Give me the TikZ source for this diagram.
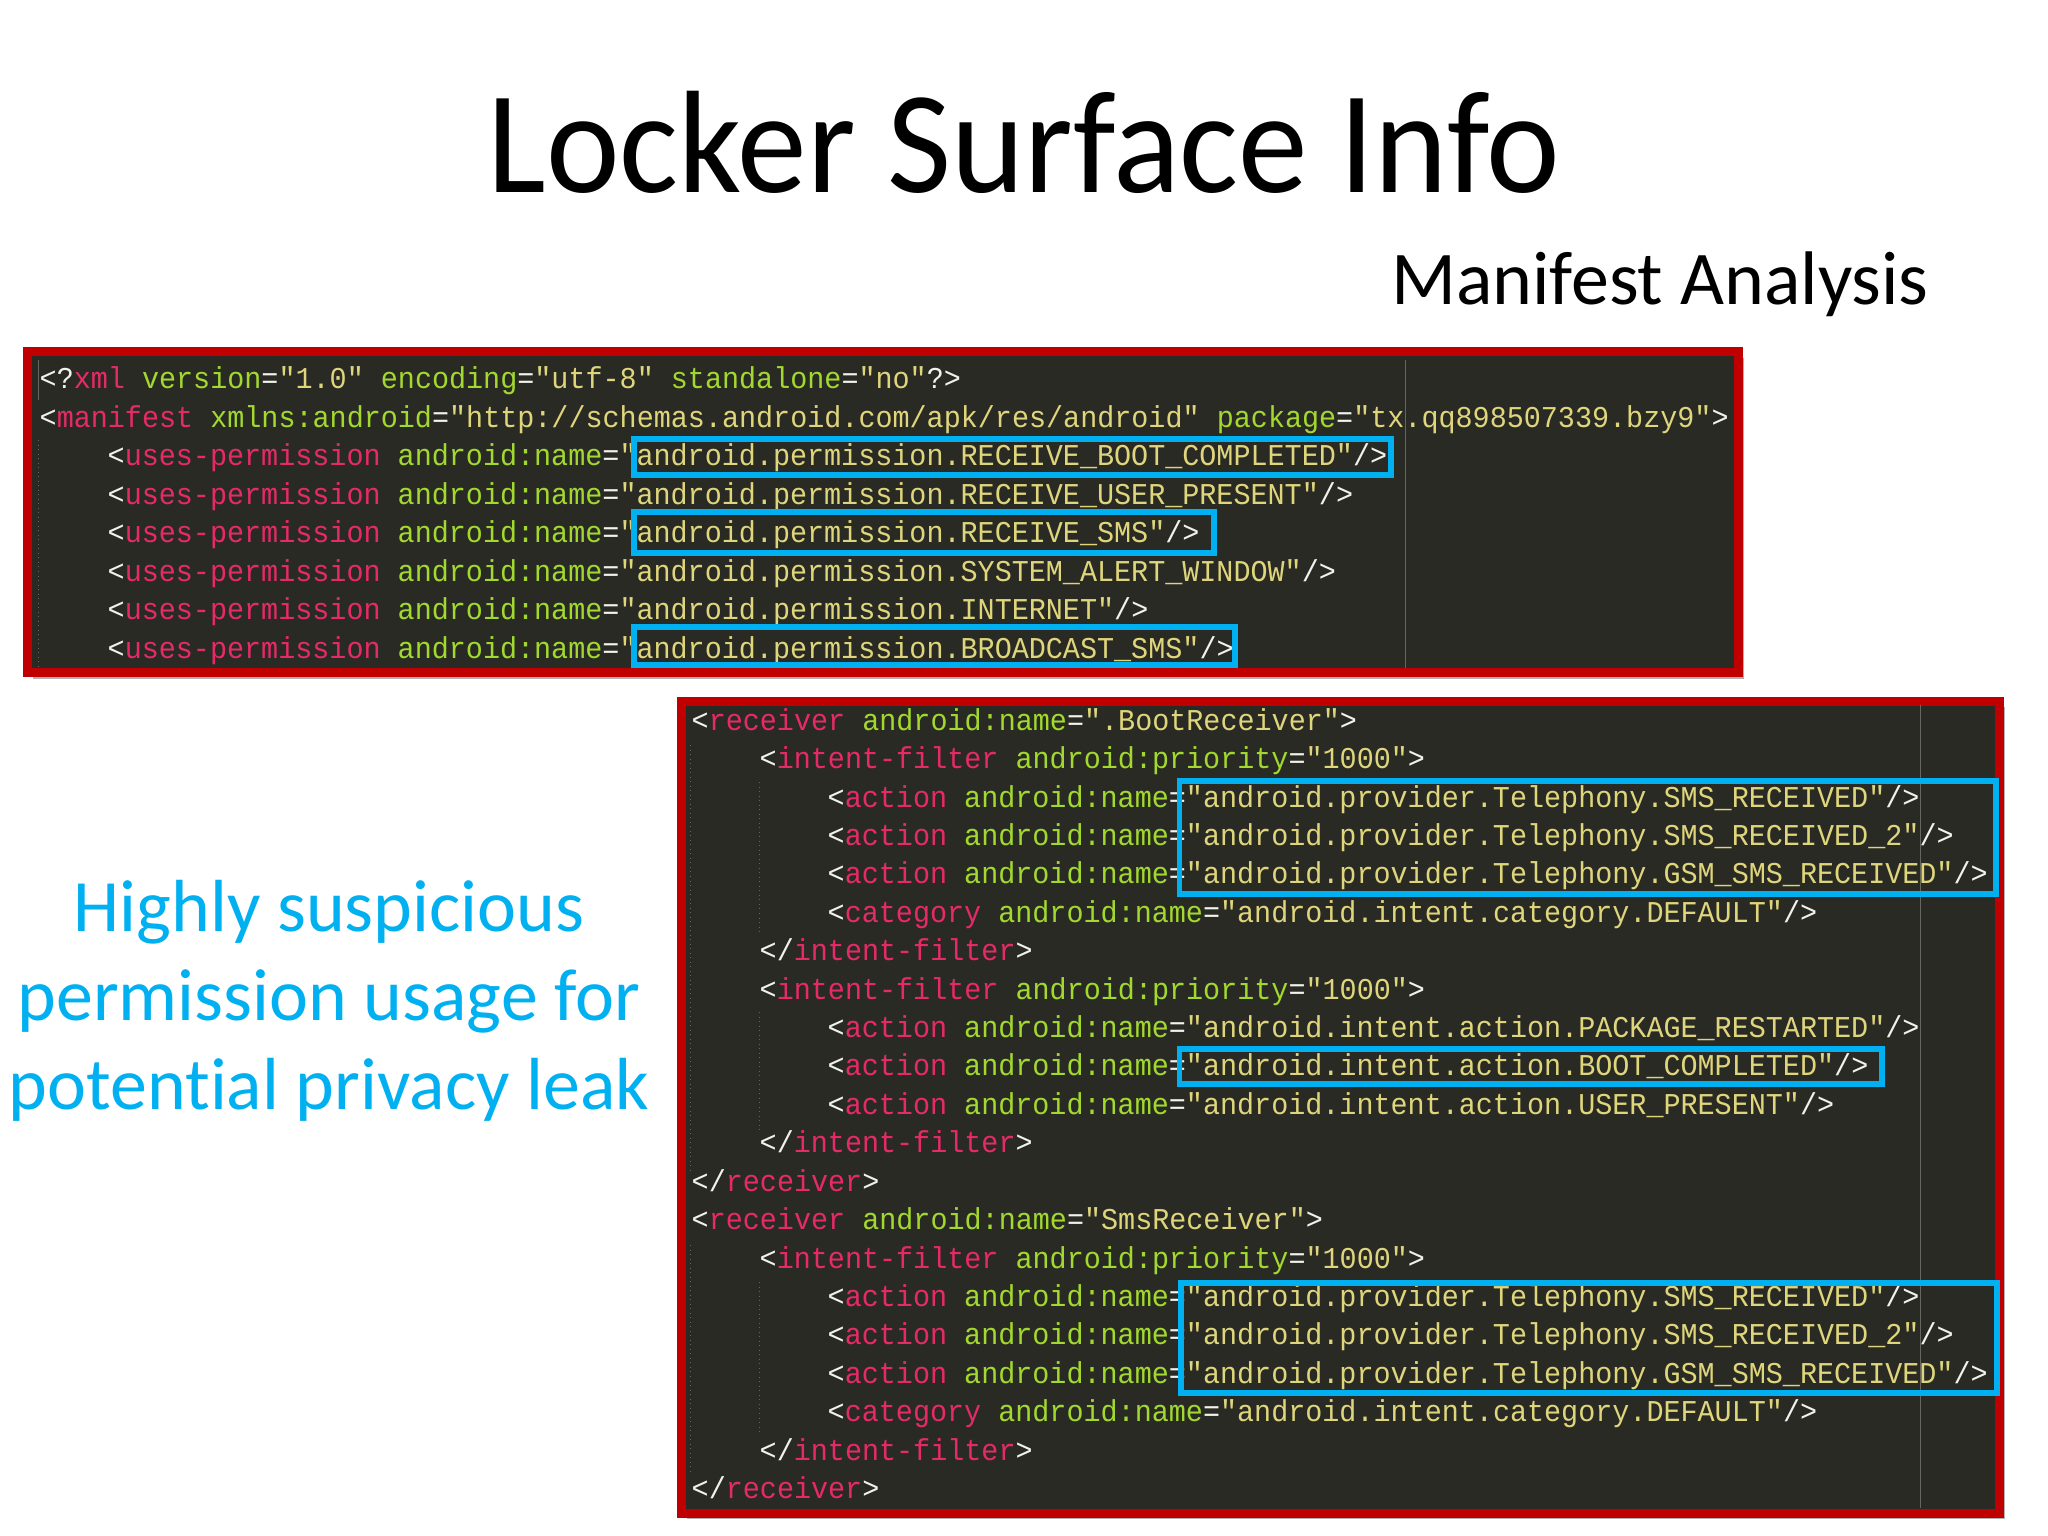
\documentclass[tikz,border=0pt]{standalone}
\usepackage{fontspec}
\usetikzlibrary{shadows}
\setmainfont[Ligatures=NoCommon]{Carlito}
\newfontfamily\headfont[Ligatures=NoCommon,FakeStretch=0.955]{Carlito}
\newfontfamily\codefont[FakeStretch=0.94]{Liberation Mono}
\definecolor{panelred}{HTML}{C00000}
\definecolor{panelbg}{HTML}{2A2A25}
\definecolor{markblue}{HTML}{00B0F0}
\definecolor{tagcol}{HTML}{E62A68}
\definecolor{attcol}{HTML}{A2D92E}
\definecolor{strcol}{HTML}{DFD67C}
\definecolor{puncol}{HTML}{F2F2EC}
\definecolor{guidecol}{HTML}{66665F}
\newcommand{\tg}[1]{\textcolor{tagcol}{#1}}
\newcommand{\att}[1]{\textcolor{attcol}{#1}}
\newcommand{\str}[1]{\textcolor{strcol}{#1}}
\newcommand{\pn}[1]{\textcolor{puncol}{#1}}
\newcommand{\nameattr}{\att{android:name}\pn{=}}
\newcommand{\permline}[1]{\pn{<}\tg{uses-permission} \nameattr\str{"android.permission.#1"}\pn{/>}}
\newcommand{\actline}[1]{\pn{<}\tg{action} \nameattr\str{"#1"}\pn{/>}}
\newcommand{\catline}{\pn{<}\tg{category} \nameattr\str{"android.intent.category.DEFAULT"}\pn{/>}}
\newcommand{\filteropen}{\pn{<}\tg{intent-filter} \att{android:priority}\pn{=}\str{"1000"}\pn{>}}
\newcommand{\filterclose}{\pn{</}\tg{intent-filter}\pn{>}}
\newcommand{\recvopen}[1]{\pn{<}\tg{receiver} \nameattr\str{"#1"}\pn{>}}
\newcommand{\recvclose}{\pn{</}\tg{receiver}\pn{>}}
\tikzset{
    panel/.style={draw=panelred,fill=panelbg,line width=0.09cm,drop shadow={shadow xshift=0.05cm,shadow yshift=-0.06cm,opacity=0.3,fill=black}},
    markbox/.style={draw=markblue,line width=0.055cm},
    guide/.style={draw=guidecol,line width=0.01cm},
    indentguide/.style={draw=guidecol,line width=0.01cm,densely dotted},
    codeline/.style={anchor=base west,inner sep=0pt,font=\codefont\fontsize{8.6}{10}\selectfont\frenchspacing},
    slidetext/.style={anchor=base,inner sep=0pt}
}
\begin{document}
\begin{tikzpicture}[x=0.01cm,y=-0.01cm]
    \useasboundingbox (0,0) rectangle (2048,1536);
    %% Heading
    \node[slidetext,font=\headfont\fontsize{41.5}{50}\selectfont] (title) at (1024,192) {Locker Surface Info};
    \node[slidetext,font=\fontsize{21.6}{26}\selectfont] (subtitle) at (1660,304) {Manifest Analysis};
    %% Side note
    \node[slidetext,align=center,text=markblue,font=\fontsize{21}{25.3}\selectfont] (note) at (329,1109) {Highly suspicious\\permission usage for\\potential privacy leak};
    %% Panels
    \draw[panel] (27.5,351.5) rectangle (1738.5,672.5);
    \draw[panel] (681.5,701) rectangle (1999.5,1513);
    %% Guides
    \draw[guide] (1405,360) -- (1405,668);
    \draw[guide] (1920,705) -- (1920,1508);
    \draw[guide] (38,360) -- (38,400);
    \draw[indentguide] (38,440) -- (38,668);
    \draw[indentguide] (690,745) -- (690,1170);
    \draw[indentguide] (690,1245) -- (690,1475);
    \foreach \ya/\yb in {782/935,1012/1130,1282/1435}
        \draw[indentguide] (759,\ya) -- (759,\yb);
    %% Manifest code
    \node[codeline] (xmlhead) at (39,388.5) {\pn{<?}\tg{xml} \att{version}\pn{=}\str{"1.0"} \att{encoding}\pn{=}\str{"utf-8"} \att{standalone}\pn{=}\str{"no"}\pn{?>}};
    \node[codeline] (manifest) at (39,427) {\pn{<}\tg{manifest} \att{xmlns:android}\pn{=}\str{"http://schemas.android.com/apk/res/android"} \att{package}\pn{=}\str{"tx.qq898507339.bzy9"}\pn{>}};
    \node[codeline] (permboot) at (107,465.5) {\permline{RECEIVE\_BOOT\_COMPLETED}};
    \node[codeline] (permuser) at (107,504) {\permline{RECEIVE\_USER\_PRESENT}};
    \node[codeline] (permsms) at (107,542.5) {\permline{RECEIVE\_SMS}};
    \node[codeline] (permalert) at (107,581) {\permline{SYSTEM\_ALERT\_WINDOW}};
    \node[codeline] (permnet) at (107,619.5) {\permline{INTERNET}};
    \node[codeline] (permbroad) at (107,658) {\permline{BROADCAST\_SMS}};
    %% Receiver code
    \node[codeline] (bootrecv) at (691,730) {\recvopen{.BootReceiver}};
    \node[codeline] (filtera) at (759,768.5) {\filteropen};
    \node[codeline] (acta) at (827,807) {\actline{android.provider.Telephony.SMS\_RECEIVED}};
    \node[codeline] (actb) at (827,845.4) {\actline{android.provider.Telephony.SMS\_RECEIVED\_2}};
    \node[codeline] (actc) at (827,883.8) {\actline{android.provider.Telephony.GSM\_SMS\_RECEIVED}};
    \node[codeline] (cata) at (827,922.2) {\catline};
    \node[codeline] (closea) at (759,960.6) {\filterclose};
    \node[codeline] (filterb) at (759,999) {\filteropen};
    \node[codeline] (actd) at (827,1037.5) {\actline{android.intent.action.PACKAGE\_RESTARTED}};
    \node[codeline] (acte) at (827,1075.9) {\actline{android.intent.action.BOOT\_COMPLETED}};
    \node[codeline] (actf) at (827,1114.3) {\actline{android.intent.action.USER\_PRESENT}};
    \node[codeline] (closeb) at (759,1152.7) {\filterclose};
    \node[codeline] (endboot) at (691,1191.1) {\recvclose};
    \node[codeline] (smsrecv) at (691,1229.5) {\recvopen{SmsReceiver}};
    \node[codeline] (filterc) at (759,1268) {\filteropen};
    \node[codeline] (actg) at (827,1306.4) {\actline{android.provider.Telephony.SMS\_RECEIVED}};
    \node[codeline] (acth) at (827,1344.8) {\actline{android.provider.Telephony.SMS\_RECEIVED\_2}};
    \node[codeline] (acti) at (827,1383.2) {\actline{android.provider.Telephony.GSM\_SMS\_RECEIVED}};
    \node[codeline] (catc) at (827,1421.6) {\catline};
    \node[codeline] (closec) at (759,1460) {\filterclose};
    \node[codeline] (endsms) at (691,1498.4) {\recvclose};
    %% Marked permissions
    \draw[markbox] (634,439) rectangle (1391,475);
    \draw[markbox] (634,512) rectangle (1214,553);
    \draw[markbox] (634,627) rectangle (1235,665);
    %% Marked actions
    \draw[markbox] (1179.5,781) rectangle (1996,894);
    \draw[markbox] (1179.5,1049) rectangle (1882,1084);
    \draw[markbox] (1181,1283) rectangle (1997,1393);
\end{tikzpicture}
\end{document}
